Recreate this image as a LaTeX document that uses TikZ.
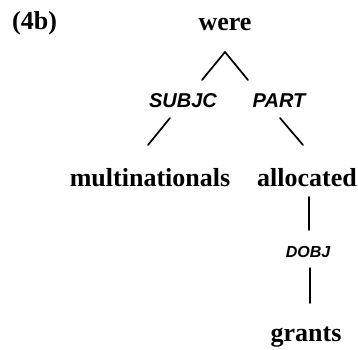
\documentclass[tikz,border=0pt]{standalone}
\usepackage{fontspec}
\setmainfont{Liberation Serif}
\newfontfamily\labfont{Liberation Sans}
\tikzset{
  word/.style={inner sep=0pt, anchor=base, font=\fontsize{26}{30}\selectfont\bfseries},
  rel/.style={inner sep=0pt, anchor=base, font=\fontsize{20}{24}\selectfont\labfont\bfseries\itshape},
  relsmall/.style={inner sep=0pt, anchor=base, font=\fontsize{16}{19}\selectfont\labfont\bfseries\itshape},
  edge/.style={line width=1.7pt, line cap=round}
}
\begin{document}
\begin{tikzpicture}[x=1pt,y=-1pt]
\useasboundingbox (0,0) rectangle (358,349);
\node[word, anchor=base west] (ex) at (12,29) {(4b)};
\node[word] (were) at (225,30) {were};
\node[rel] (subjc) at (183,107) {SUBJC};
\node[rel] (part) at (279,107) {PART};
\node[word] (multi) at (150,186) {multinationals};
\node[word] (alloc) at (307,186) {allocated};
\node[relsmall] (dobj) at (308,257) {DOBJ};
\node[word] (grants) at (306,341) {grants};
% connector end points
\coordinate (apex) at (225,52);
\coordinate (aL) at (202,80);
\coordinate (aR) at (248,80);
\coordinate (sA) at (170,118);
\coordinate (sB) at (148,145);
\coordinate (pA) at (280,118);
\coordinate (pB) at (303,145);
\coordinate (d1) at (309,197);
\coordinate (d2) at (309,230);
\coordinate (d3) at (310,268);
\coordinate (d4) at (310,303);
\draw[edge] (aL) -- (apex) -- (aR);
\draw[edge] (sA) -- (sB);
\draw[edge] (pA) -- (pB);
\draw[edge] (d1) -- (d2);
\draw[edge] (d3) -- (d4);
\end{tikzpicture}
\end{document}
